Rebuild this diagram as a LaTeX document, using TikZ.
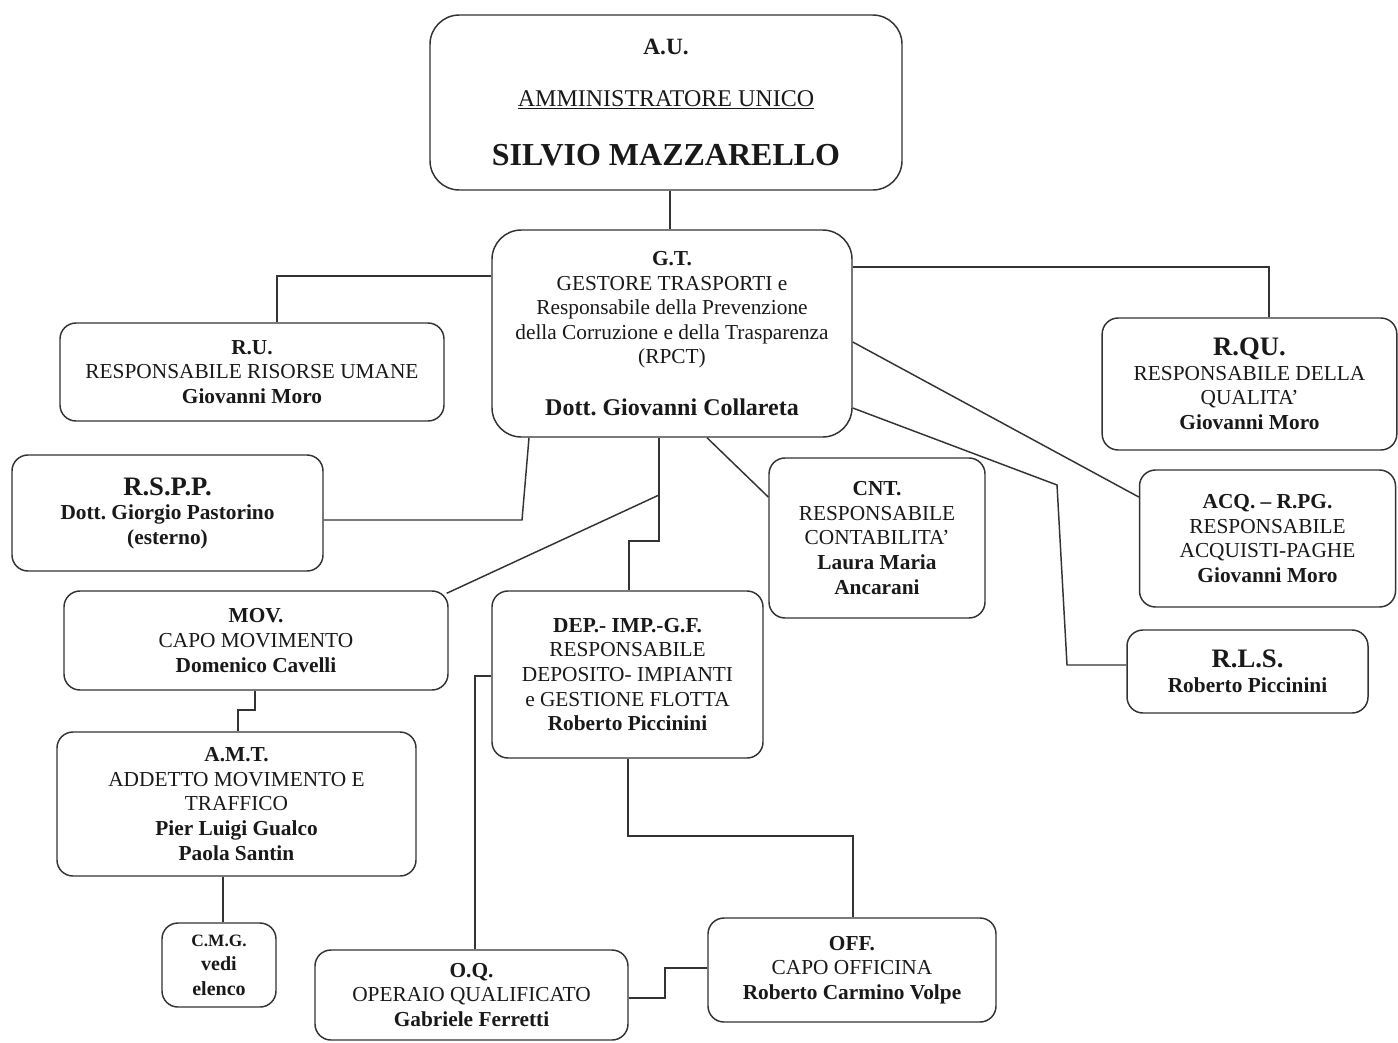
\documentclass[tikz,border=0pt]{standalone}
\usepackage{fontspec}
\setmainfont{Liberation Serif}
\usetikzlibrary{calc}
\frenchspacing
\tikzset{
  box/.style={draw=black!80, line width=1.1pt, rounded corners=12pt, align=center,
    inner sep=0pt, text=black!90, font=\fontsize{16}{18.4}\selectfont\frenchspacing},
  bigbox/.style={box, rounded corners=22pt},
  link/.style={draw=black!80, line width=1.1pt}
}
\newcommand{\bigb}[1]{{\fontsize{20}{22}\selectfont\bfseries #1}}
\begin{document}
\begin{tikzpicture}[x=0.75pt,y=-0.75pt]
\useasboundingbox (0,0) rectangle (1398,1042);
% boxes
\node[bigbox, minimum width=354pt, minimum height=131.25pt] (AU) at (666,102.5)
  {{\fontsize{17.5}{18.4}\selectfont\bfseries A.U.}\\[20.6pt]{\fontsize{18}{18.4}\selectfont\underline{AMMINISTRATORE UNICO}}\\[26pt]{\fontsize{24}{26}\selectfont\bfseries SILVIO MAZZARELLO}};
\node[bigbox, minimum width=270pt, minimum height=155.25pt] (GT) at (672,333.5)
  {{\bfseries G.T.}\\GESTORE TRASPORTI e\\Responsabile della Prevenzione\\della Corruzione e della Trasparenza\\(RPCT)\\[20pt]{\fontsize{18}{20}\selectfont\bfseries Dott. Giovanni Collareta}};
\node[box, minimum width=288pt, minimum height=73.5pt] (RU) at (252,372)
  {{\bfseries R.U.}\\RESPONSABILE RISORSE UMANE\\{\bfseries Giovanni Moro}};
\node[box, minimum width=221pt, minimum height=99pt] (RQU) at (1249.5,384)
  {\bigb{R.QU.}\\RESPONSABILE DELLA\\QUALITA’\\{\bfseries Giovanni Moro}};
\node[box, minimum width=233.25pt, minimum height=87pt] (RSPP) at (167.5,513)
  {\bigb{R.S.P.P.}\\{\bfseries Dott. Giorgio Pastorino}\\{\bfseries (esterno)}};
\node[box, minimum width=162pt, minimum height=120pt] (CNT) at (877,538)
  {{\bfseries CNT.}\\RESPONSABILE\\CONTABILITA’\\{\bfseries Laura Maria}\\{\bfseries Ancarani}};
\node[box, minimum width=192pt, minimum height=102.75pt] (ACQ) at (1267.5,538.5)
  {{\bfseries ACQ. – R.PG.}\\RESPONSABILE\\ACQUISTI-PAGHE\\{\bfseries Giovanni Moro}};
\node[box, minimum width=180.75pt, minimum height=62.25pt] (RLS) at (1247.5,671.5)
  {\bigb{R.L.S.}\\{\bfseries Roberto Piccinini}};
\node[box, minimum width=288pt, minimum height=74.25pt] (MOV) at (256,640.5)
  {{\bfseries MOV.}\\CAPO MOVIMENTO\\{\bfseries Domenico Cavelli}};
\node[box, minimum width=203.25pt, minimum height=125.25pt] (DEP) at (627.5,674.5)
  {{\bfseries DEP.- IMP.-G.F.}\\RESPONSABILE\\DEPOSITO- IMPIANTI\\e GESTIONE FLOTTA\\{\bfseries Roberto Piccinini}};
\node[box, minimum width=269.25pt, minimum height=108pt] (AMT) at (236.5,804)
  {{\bfseries A.M.T.}\\ADDETTO MOVIMENTO E\\TRAFFICO\\{\bfseries Pier Luigi Gualco}\\{\bfseries Paola Santin}};
\node[box, minimum width=85.5pt, minimum height=63pt] (CMG) at (219,965)
  {{\fontsize{13}{18.4}\selectfont\bfseries C.M.G.}\\{\fontsize{15}{18.4}\selectfont\bfseries vedi}\\{\fontsize{15}{18.4}\selectfont\bfseries elenco}};
\node[box, minimum width=234.75pt, minimum height=67.5pt] (OQ) at (471.5,995)
  {{\bfseries O.Q.}\\OPERAIO QUALIFICATO\\{\bfseries Gabriele Ferretti}};
\node[box, minimum width=216pt, minimum height=78pt] (OFF) at (852,970)
  {{\bfseries OFF.}\\CAPO OFFICINA\\{\bfseries Roberto Carmino Volpe}};
% junction coordinates
\coordinate (j1) at (659,495);
\coordinate (j2) at (659,541);
\coordinate (j3) at (522,520);
\coordinate (j4) at (1057,485);
\coordinate (j5) at (1067,665);
\coordinate (j6) at (255,710);
\coordinate (j7) at (628,836);
\coordinate (j8) at (665,998);
% connectors
\draw[link] (AU.south -| 670,0) -- (GT.north -| 670,0);
\draw[link] (GT.west |- 0,276) -| (RU.north -| 277,0);
\draw[link] (GT.east |- 0,267) -| (RQU.north -| 1269,0);
\draw[link] (GT.south -| 529,0) -- (j3) -- (RSPP.east |- j3);
\draw[link] (GT.south -| 659,0) -- (j2) -| (DEP.north -| 629,0);
\draw[link] (j1) -- ($(MOV.north east)+(-2,3)$);
\draw[link] (GT.south -| 707,0) -- (CNT.west |- 0,497);
\draw[link] (GT.east |- 0,342) -- (ACQ.west |- 0,497);
\draw[link] (GT.east |- 0,408) -- (j4) -- (j5) -- (RLS.west |- j5);
\draw[link] (MOV.south -| j6) -- (j6) -| (AMT.north -| 238,0);
\draw[link] (AMT.south -| 223,0) -- (CMG.north -| 223,0);
\draw[link] (DEP.west |- 0,676) -| (OQ.north -| 475,0);
\draw[link] (DEP.south -| j7) -- (j7) -| (OFF.north -| 853,0);
\draw[link] (OQ.east |- j8) -- (j8) |- (OFF.west |- 0,968);
\end{tikzpicture}
\end{document}
